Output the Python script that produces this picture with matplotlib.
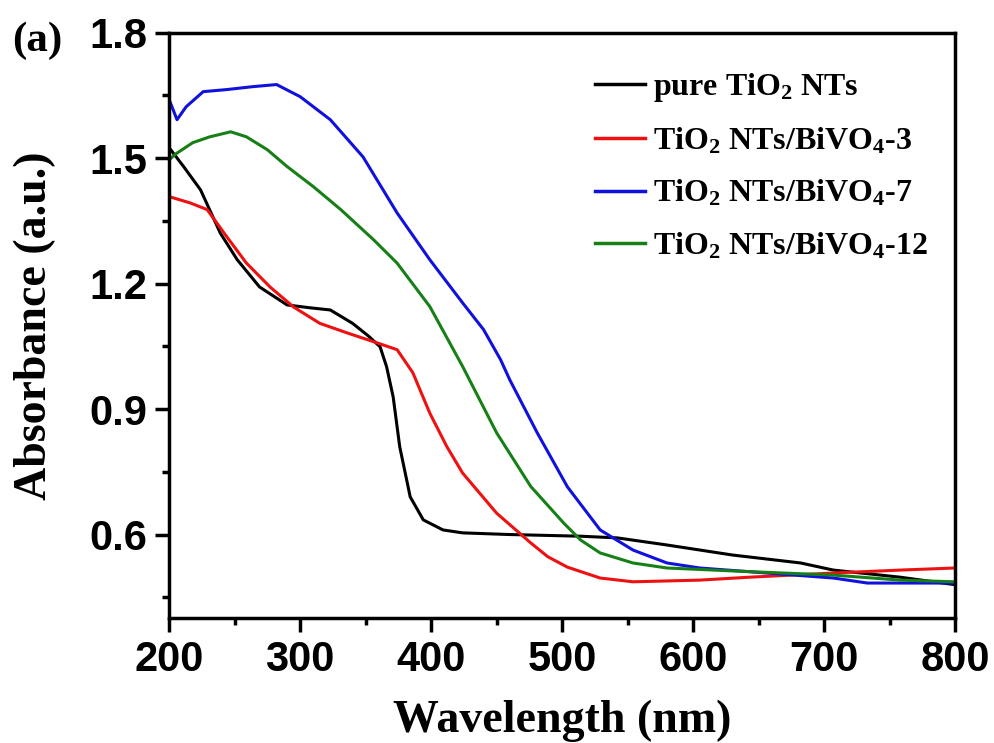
import matplotlib
matplotlib.use("Agg")
import matplotlib.pyplot as plt
from matplotlib.ticker import MultipleLocator

plt.rcParams['mathtext.default'] = 'regular'

# data
wl_black = [200, 211, 224, 239, 252, 269, 290, 308, 323, 340, 352, 361, 366, 371,
            376, 384, 394, 409, 424, 460, 514, 542, 580, 630, 682, 707, 758, 800]
abs_black = [1.525, 1.48, 1.424, 1.321, 1.257, 1.192, 1.149, 1.142, 1.137, 1.105,
             1.075, 1.049, 1.001, 0.929, 0.81, 0.69, 0.635, 0.611, 0.604, 0.600,
             0.596, 0.592, 0.575, 0.551, 0.532, 0.515, 0.498, 0.480]

wl_red = [200, 216, 229, 244, 259, 277, 295, 315, 336, 359, 374, 386, 399, 412,
          424, 450, 476, 489, 504, 529, 554, 605, 643, 707, 758, 800]
abs_red = [1.408, 1.393, 1.377, 1.312, 1.249, 1.192, 1.144, 1.105, 1.082, 1.058,
           1.042, 0.987, 0.89, 0.81, 0.747, 0.651, 0.58, 0.547, 0.522, 0.496,
           0.487, 0.491, 0.498, 0.508, 0.515, 0.52]

wl_blue = [200, 206, 213, 226, 244, 264, 282, 300, 323, 348, 374, 399, 424, 440,
           453, 460, 481, 504, 529, 554, 580, 605, 656, 707, 733, 800]
abs_blue = [1.64, 1.592, 1.623, 1.659, 1.664, 1.671, 1.676, 1.647, 1.592, 1.503,
            1.369, 1.257, 1.154, 1.09, 1.018, 0.970, 0.843, 0.714, 0.611, 0.563,
            0.532, 0.52, 0.508, 0.496, 0.484, 0.484]

wl_green = [200, 205, 218, 231, 247, 259, 275, 290, 310, 331, 356, 374, 399, 424,
            450, 476, 501, 514, 529, 554, 580, 630, 707, 758, 800]
abs_green = [1.496, 1.51, 1.537, 1.551, 1.563, 1.551, 1.52, 1.48, 1.432, 1.377,
             1.305, 1.249, 1.145, 1.002, 0.843, 0.715, 0.628, 0.587, 0.556, 0.532,
             0.52, 0.513, 0.503, 0.491, 0.487]

labels = ['pure TiO$_2$ NTs', 'TiO$_2$ NTs/BiVO$_4$-3',
          'TiO$_2$ NTs/BiVO$_4$-7', 'TiO$_2$ NTs/BiVO$_4$-12']

fig = plt.figure(figsize=(9.95, 7.43), dpi=100)
ax = fig.add_axes([0.170, 0.168, 0.790, 0.788])

ax.plot(wl_black, abs_black, color='black', lw=2.2, label=labels[0])
ax.plot(wl_red, abs_red, color='#ee1111', lw=2.2, label=labels[1])
ax.plot(wl_blue, abs_blue, color='#1111dd', lw=2.2, label=labels[2])
ax.plot(wl_green, abs_green, color='#168016', lw=2.2, label=labels[3])

ax.set_xlim(200, 800)
ax.set_ylim(0.4, 1.8)
ax.xaxis.set_major_locator(MultipleLocator(100))
ax.xaxis.set_minor_locator(MultipleLocator(50))
ax.set_yticks([0.6, 0.9, 1.2, 1.5, 1.8])
ax.set_yticks([0.45, 0.75, 1.05, 1.35, 1.65], minor=True)

for s in ax.spines.values():
    s.set_linewidth(2.5)
ax.tick_params(which='major', direction='out', length=10, width=2.5, pad=6)
ax.tick_params(which='minor', direction='out', length=5, width=2.5)
for t in ax.get_xticklabels() + ax.get_yticklabels():
    t.set_fontfamily('Liberation Sans')
    t.set_fontweight('bold')
    t.set_fontsize(30)

ax.set_xlabel('Wavelength (nm)', family='Liberation Serif', weight='bold',
              fontsize=33, labelpad=14)
ax.set_ylabel('Absorbance (a.u.)', family='Liberation Serif', weight='bold',
              fontsize=33, labelpad=24)

fig.text(0.012, 0.945, '(a)', family='Liberation Serif', weight='bold',
         fontsize=31, va='center')

leg = ax.legend(loc='upper left', bbox_to_anchor=(0.542, 0.935), frameon=False,
                prop={'family': 'Liberation Serif', 'weight': 'bold', 'size': 23},
                handlelength=1.55, handletextpad=0.25, labelspacing=0.69,
                borderpad=0, borderaxespad=0)
for h in leg.get_lines():
    h.set_linewidth(2.5)

fig.savefig('out.png', dpi=100)
